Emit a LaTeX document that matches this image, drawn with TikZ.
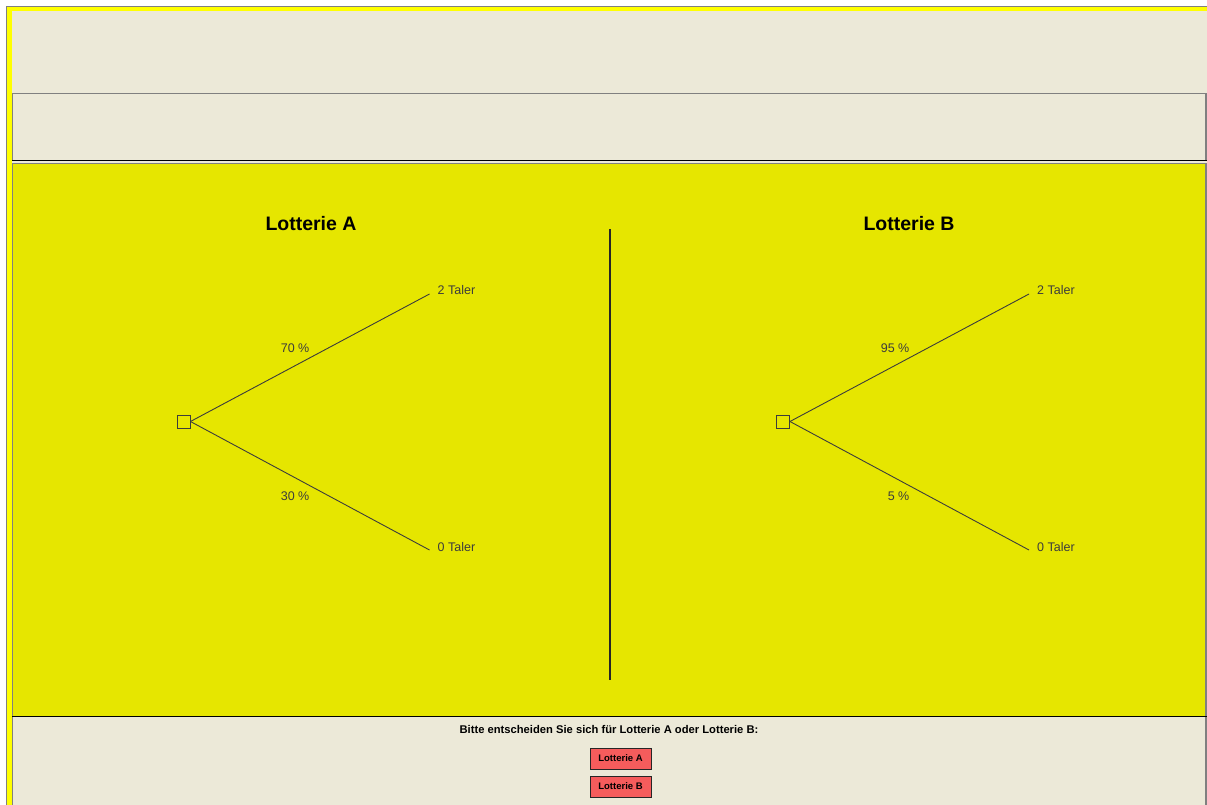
\documentclass[tikz,border=0pt]{standalone}
\usepackage{fontspec}
\setmainfont{Liberation Sans}
\definecolor{xpbeige}{RGB}{236,233,216}
\definecolor{lotyellow}{RGB}{230,230,0}
\definecolor{frameyellow}{RGB}{255,255,0}
\definecolor{framegray}{RGB}{128,128,128}
\definecolor{btnred}{RGB}{245,92,92}
\definecolor{treegray}{RGB}{60,60,60}
\usetikzlibrary{positioning}

\begin{document}
\begin{tikzpicture}[x=1pt, y=-1pt,
  ttl/.style={font=\fontsize{19.5}{22}\selectfont\bfseries, text=black, inner sep=0pt},
  chance/.style={rectangle, draw=treegray, line width=0.9pt, minimum size=13pt, inner sep=0pt},
  outc/.style={font=\fontsize{12.5}{14}\selectfont, text=treegray, inner sep=0pt, anchor=west},
  prob/.style={font=\fontsize{12.5}{14}\selectfont, text=treegray, inner sep=0pt, anchor=east},
  branch/.style={draw=treegray, line width=0.9pt},
  btn/.style={rectangle, draw=black!85, fill=btnred, line width=1pt,
              minimum width=61pt, minimum height=21pt, inner sep=0pt,
              font=\fontsize{9.5}{11}\selectfont\bfseries}
]
\useasboundingbox (0,0) rectangle (1207,805);

% Frame
\fill[white] (0,0) rectangle (1207,805);
\fill[frameyellow] (6,6) rectangle (1207,805);
\draw[framegray, line width=1pt] (6.5,805) -- (6.5,6.5) -- (1207,6.5);
\fill[xpbeige] (11.5,11.5) rectangle (1207,805);

% Panels
\draw[framegray, line width=1.2pt] (12.5,160) -- (12.5,93.5) -- (1206,93.5) -- (1206,160);
\draw[black, line width=1.2pt] (12,160.5) -- (1206.5,160.5);
\fill[lotyellow] (12,163) rectangle (1206,716);
\draw[framegray, line width=1.2pt] (12.5,716) -- (12.5,163.5) -- (1206,163.5) -- (1206,716);
\draw[black, line width=1.2pt] (12,716.5) -- (1206.5,716.5);
\draw[framegray, line width=1.2pt] (12.5,717) -- (12.5,805);
\draw[framegray, line width=1.2pt] (1206,717) -- (1206,805);

% Titles
\node[ttl] (ttlA) at (311,224) {Lotterie A};
\node[ttl] (ttlB) at (909,224) {Lotterie B};

% Divider
\coordinate (divtop) at (610,229);
\coordinate (divbot) at (610,680);
\draw[black!85, line width=1.6pt] (divtop) -- (divbot);

% Lottery A
\node[chance] (sqA) at (183.5,421.5) {};
\coordinate (hiA) at (429.5,294);
\coordinate (loA) at (429.5,550);
\node[outc] (hiAl) at (437.5,290.5) {2 Taler};
\node[outc] (loAl) at (437.5,547) {0 Taler};
\node[prob] (pA1) at (309.5,348.5) {70 \%};
\node[prob] (pA2) at (309.5,496) {30 \%};
\draw[branch] (sqA.east) -- (hiA);
\draw[branch] (sqA.east) -- (loA);

% Lottery B
\node[chance] (sqB) at (783,421.5) {};
\coordinate (hiB) at (1029,294);
\coordinate (loB) at (1029,550);
\node[outc] (hiBl) at (1037,290.5) {2 Taler};
\node[outc] (loBl) at (1037,547) {0 Taler};
\node[prob] (pB1) at (909.5,348.5) {95 \%};
\node[prob] (pB2) at (909.5,496) {5 \%};
\draw[branch] (sqB.east) -- (hiB);
\draw[branch] (sqB.east) -- (loB);

% Choice
\node[font=\fontsize{11.2}{13}\selectfont\bfseries, inner sep=0pt] (ask) at (609,729.5)
  {Bitte entscheiden Sie sich für Lotterie A oder Lotterie B:};
\node[btn] (btnA) at (620.5,758.5) {Lotterie A};
\node[btn, below=6pt of btnA] (btnB) {Lotterie B};
\end{tikzpicture}
\end{document}
